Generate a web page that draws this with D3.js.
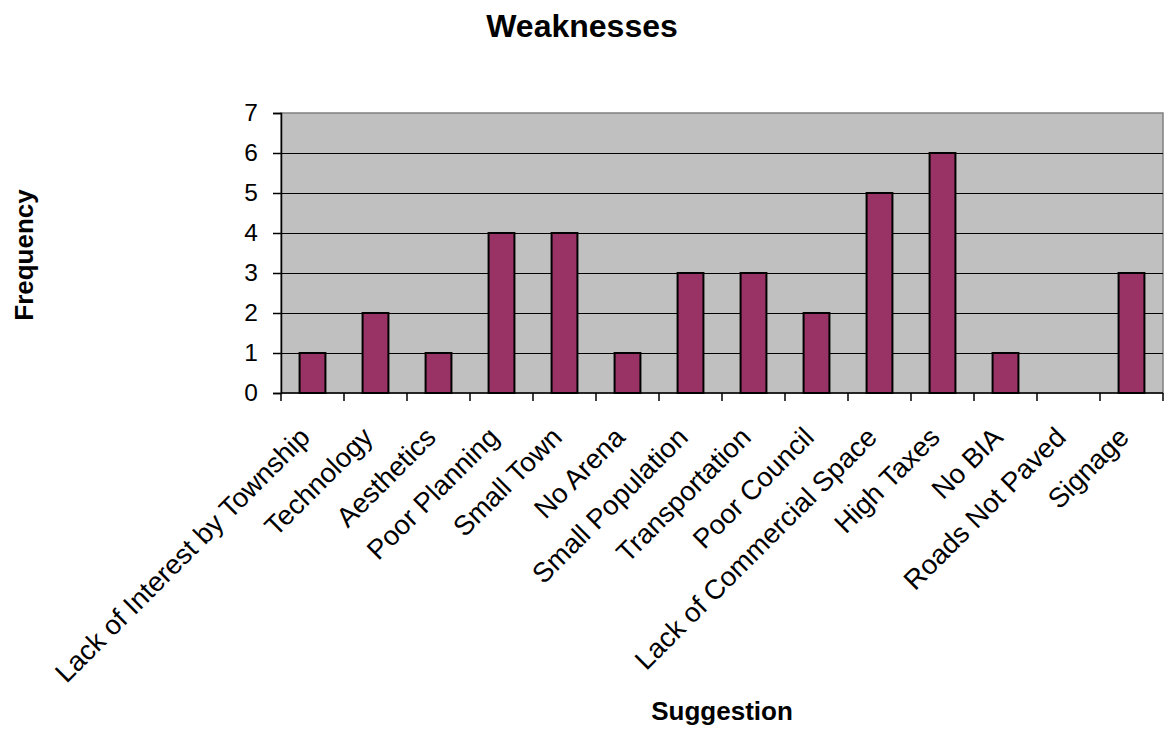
<!DOCTYPE html>
<html>
<head>
<meta charset="utf-8">
<script src="https://cdn.jsdelivr.net/npm/d3@7"></script>
<style>
  body { margin: 0; background: #fff; }
  text { font-family: Arial, "Liberation Sans", sans-serif; fill: #000; }
</style>
</head>
<body>
<svg id="chart" width="1168" height="729"></svg>
<script>
// Survey responses: weaknesses named, with how often each came up
const categories = [
  "Lack of Interest by Township", "Technology", "Aesthetics", "Poor Planning",
  "Small Town", "No Arena", "Small Population", "Transportation", "Poor Council",
  "Lack of Commercial Space", "High Taxes", "No BIA", "Roads Not Paved", "Signage"
];
const frequency = [1, 2, 1, 4, 4, 1, 3, 3, 2, 5, 6, 1, 0, 3];
const yTicks = [0, 1, 2, 3, 4, 5, 6, 7];

const svg = d3.select("#chart");
const plot = { left: 281, right: 1163, top: 113, bottom: 393 };

const x = d3.scaleBand().domain(categories).range([plot.left, plot.right]).paddingInner(0).paddingOuter(0);
const y = d3.scaleLinear().domain([0, 7]).range([plot.bottom, plot.top]);

// plot background
svg.append("rect")
  .attr("x", plot.left).attr("y", plot.top)
  .attr("width", plot.right - plot.left).attr("height", plot.bottom - plot.top)
  .attr("fill", "#c0c0c0").attr("stroke", "#808080").attr("stroke-width", 1.5);

// horizontal gridlines
svg.append("g").selectAll("line").data(yTicks.filter(d => d > 0 && d < 7)).join("line")
  .attr("x1", plot.left).attr("x2", plot.right)
  .attr("y1", d => Math.round(y(d)) + 0.5).attr("y2", d => Math.round(y(d)) + 0.5)
  .attr("stroke", "#000").attr("stroke-width", 1);

// bars
const barW = x.bandwidth() * 0.41;
svg.append("g").selectAll("rect").data(frequency.map((v, i) => ({ c: categories[i], v })))
  .join("rect")
  .filter(d => d.v > 0)
  .attr("x", d => x(d.c) + (x.bandwidth() - barW) / 2)
  .attr("y", d => y(d.v))
  .attr("width", barW)
  .attr("height", d => y(0) - y(d.v))
  .attr("fill", "#993366")
  .attr("stroke", "#000")
  .attr("stroke-width", 2);

// y axis
const yAxis = svg.append("g")
  .attr("transform", `translate(${plot.left},0)`)
  .call(d3.axisLeft(y).tickValues(yTicks).tickFormat(d3.format("d")).tickSize(8).tickPadding(15));
yAxis.select(".domain").attr("stroke", "#000").attr("stroke-width", 1.5);
yAxis.selectAll(".tick line").attr("stroke", "#000").attr("stroke-width", 1.5);
yAxis.selectAll(".tick text").attr("font-size", 24.5).attr("font-family", "Arial, 'Liberation Sans', sans-serif");

// x axis: ticks on band boundaries
const xAxisG = svg.append("g");
xAxisG.append("line")
  .attr("x1", plot.left).attr("x2", plot.right)
  .attr("y1", plot.bottom).attr("y2", plot.bottom)
  .attr("stroke", "#000").attr("stroke-width", 1.5);
const bounds = categories.map(c => x(c)).concat([x(categories[categories.length - 1]) + x.bandwidth()]);
xAxisG.selectAll("line.tk").data(bounds).join("line").attr("class", "tk")
  .attr("x1", d => d).attr("x2", d => d)
  .attr("y1", plot.bottom).attr("y2", plot.bottom + 8)
  .attr("stroke", "#000").attr("stroke-width", 1.5);

// category labels at 45 degrees
xAxisG.selectAll("text").data(categories).join("text")
  .attr("transform", d => `translate(${x(d) + x.bandwidth() / 2 - 1},${plot.bottom + 46}) rotate(-45)`)
  .attr("text-anchor", "end")
  .attr("font-size", 27.5)
  .text(d => d);

// titles
svg.append("text")
  .attr("x", 582).attr("y", 37)
  .attr("text-anchor", "middle").attr("font-weight", "bold").attr("font-size", 32)
  .text("Weaknesses");

svg.append("text")
  .attr("transform", "translate(33,255) rotate(-90)")
  .attr("text-anchor", "middle").attr("font-weight", "bold").attr("font-size", 26)
  .text("Frequency");

svg.append("text")
  .attr("x", 722).attr("y", 720)
  .attr("text-anchor", "middle").attr("font-weight", "bold").attr("font-size", 26)
  .text("Suggestion");
</script>
</body>
</html>
